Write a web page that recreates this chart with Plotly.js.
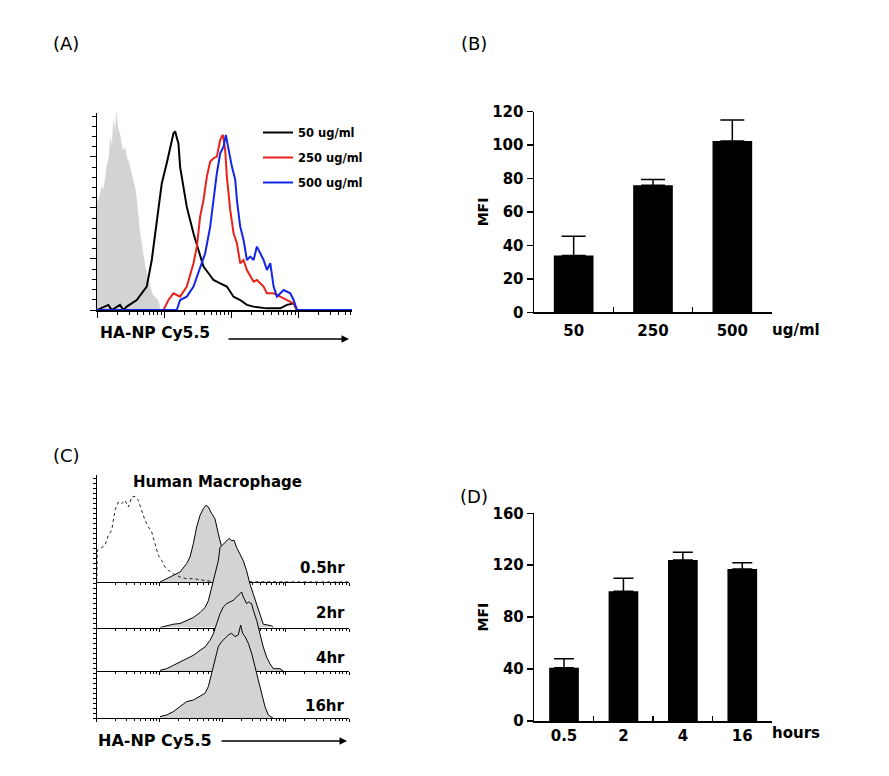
<!DOCTYPE html>
<html><head><meta charset="utf-8">
<script src="https://cdn.plot.ly/plotly-3.0.1.min.js"></script>
<style>html,body{margin:0;padding:0;background:#fff}#chart{width:889px;height:776px}</style>
</head><body><div id="chart"></div>
<script>
// ---------- Panel A : histograms (x = log10 fluorescence, y = events) ----------
const aGrayX = [0,0,0.04,0.07,0.1,0.145,0.18,0.2,0.22,0.25,0.27,0.29,0.31,0.34,0.37,0.39,0.42,0.44,0.47,0.49,0.52,0.54,0.57,0.59,0.62,0.64,0.68,0.72,0.77,0.82,0.87,0.91,0.93,0.94];
const aGrayY = [0,104,112,121,118,140,150,168,160,185,172,193,178,173,160,157,158,150,146,140,132,124,118,108,90,75,58,42,28,16,12,10,4,0];
const a50X = [0,0.169,0.219,0.343,0.393,0.443,0.592,0.741,0.816,0.891,0.965,1.04,1.09,1.139,1.164,1.214,1.239,1.289,1.338,1.438,1.512,1.587,1.662,1.736,1.836,1.935,2.035,2.134,2.234,2.333,2.532,2.731,2.831,2.93,2.98];
const a50Y = [0,5,0,5,0,3.3,9.8,22.9,49,88,124,144,160,173,175,163,140,121,101,75,59,42.5,36,29.4,26,23,13,9.8,5,3.3,1.6,1.6,5,6.5,0];
const a250X = [0.99,1.065,1.139,1.239,1.338,1.438,1.488,1.537,1.587,1.637,1.687,1.736,1.786,1.836,1.876,1.91,1.935,1.985,2.035,2.085,2.134,2.184,2.234,2.284,2.333,2.383,2.433,2.483,2.532,2.632,2.731,2.831,2.93,2.98];
const a250Y = [0,9.8,16.3,13.1,22.9,45.8,62.1,91.5,107.8,130.7,145.4,148.7,150.3,166.7,171.6,156.9,130.7,98,75.2,65.4,45.8,49,39.2,32.7,27.8,29.4,26.1,22.9,16.3,16.3,13.1,9.8,6.5,0];
const a500X = [0,1.189,1.239,1.338,1.438,1.537,1.612,1.687,1.736,1.786,1.836,1.886,1.92,1.96,2.01,2.06,2.085,2.134,2.184,2.234,2.284,2.333,2.383,2.433,2.483,2.532,2.582,2.632,2.682,2.781,2.881,2.93,2.98,3.8];
const a500Y = [0,0,9.8,13.1,22.9,42.5,55.6,81.7,107.8,134,153.6,160.1,171.6,156.9,140.5,127.5,107.8,81.7,68.6,49,52.3,49,62.1,55.6,49,39.2,45.8,22.9,13.1,19.6,16.3,9.8,0,0];
const aNames = ['50 ug/ml','250 ug/ml','500 ug/ml'];

// ---------- Panel B : MFI vs dose ----------
const bCats = ['50','250','500'];
const bVals = [34,76,102.5];
const bErr  = [11.5,3.5,12.5];

// ---------- Panel C : offset histograms (x = log10 fluorescence, y = events) ----------
const cCtrlX = [0,0.01,0.053,0.132,0.185,0.238,0.29,0.343,0.396,0.449,0.502,0.555,0.607,0.66,0.713,0.766,0.819,0.872,0.924,0.977,1.03,1.083,1.136,1.215,1.321,1.426,1.532,1.638,1.743,1.849,4.0];
const cCtrlY = [0,31.7,33.3,36.7,46.7,51.7,71.7,80,78.3,81.7,75,85,85.7,81.7,71.7,61.7,55,50,38.3,26.7,21.7,15,11.7,8.3,5,3.3,3.3,2.3,1,0.3,0];
const c05X = [1.004,1.109,1.215,1.321,1.426,1.479,1.532,1.585,1.638,1.69,1.733,1.77,1.823,1.875,1.928,1.981,2.034,2.087,2.166];
const c05Y = [0,3.3,6.7,10,18.3,25,38.3,55,66.7,73.3,76.7,75,68.3,63.3,48.3,35,25,11.7,0];
const c2X = [1.004,1.109,1.215,1.321,1.426,1.532,1.638,1.717,1.77,1.823,1.875,1.928,1.955,2.007,2.06,2.102,2.139,2.176,2.219,2.272,2.324,2.377,2.43,2.483,2.536,2.588,2.641,2.773,2.8];
const c2Y = [0,1.7,3.3,4,6.7,10,15,20,26.7,40,53.3,66.7,80,83.3,86.7,89.3,86.7,87.3,80,73.3,66.7,56.7,43.3,33.3,23.3,13.3,3.3,1.7,0];
const c4X = [1.004,1.109,1.215,1.321,1.426,1.532,1.638,1.717,1.796,1.849,1.902,1.955,2.007,2.06,2.113,2.166,2.219,2.272,2.298,2.324,2.377,2.404,2.456,2.483,2.536,2.588,2.641,2.694,2.747,2.8,2.905,2.958];
const c4Y = [0.7,2.3,5.7,9,12.3,15.7,20.7,24,30.7,37.3,47.3,57.3,64,67.3,69,70.7,74,77.3,79,74,67.3,69,67.3,60.7,50.7,37.3,24,14,7.3,2.3,2.3,0];
const c16X = [1.004,1.109,1.215,1.321,1.426,1.532,1.638,1.717,1.77,1.823,1.875,1.928,1.981,2.034,2.087,2.139,2.192,2.245,2.282,2.314,2.351,2.404,2.456,2.509,2.562,2.615,2.668,2.721,2.8];
const c16Y = [1.7,3.3,6.7,11.7,16.7,18.3,21.7,25,31.7,45,58.3,71.7,76.7,80,83.3,85,81.7,83.3,93.3,85,81.7,75,65,51.7,38.3,25,11.7,3.3,0];
const cLabels = ['0.5hr','2hr','4hr','16hr'];

// ---------- Panel D : MFI vs time ----------
const dCats = ['0.5','2','4','16'];
const dVals = [41,100,124,117];
const dErr  = [7,10,6,5];

// ---------- log-decade tick helper ----------
function minorLog(maxDec){ const v=[]; for(let d=0; d<Math.ceil(maxDec); d++){ for(let k=2;k<10;k++){ const t=d+Math.log10(k); if(t<maxDec) v.push(t);} } return v; }

const GRAY = '#d3d3d3';
const FONT = 'DejaVu Sans, Verdana, sans-serif';
const bf = (s) => ({family:FONT, size:s, weight:'bold', color:'#000'});

const traces = [
  {x:aGrayX, y:aGrayY, xaxis:'x', yaxis:'y', mode:'lines', fill:'tozeroy', fillcolor:GRAY, line:{color:GRAY, width:0.5}, showlegend:false, hoverinfo:'skip'},
  {x:a50X, y:a50Y, xaxis:'x', yaxis:'y', mode:'lines', name:aNames[0], line:{color:'#000000', width:2}, legendgroup:'g1'},
  {x:a250X, y:a250Y, xaxis:'x', yaxis:'y', mode:'lines', name:aNames[1], line:{color:'#e8231b', width:2}, legendgroup:'g2'},
  {x:a500X, y:a500Y, xaxis:'x', yaxis:'y', mode:'lines', name:aNames[2], line:{color:'#1226e8', width:2}, legendgroup:'g3'},
  // panel C
  {x:c05X, y:c05Y, xaxis:'x2', yaxis:'y2', mode:'lines', fill:'tozeroy', fillcolor:GRAY, line:{color:'#000', width:1}, showlegend:false},
  {x:cCtrlX, y:cCtrlY, xaxis:'x2', yaxis:'y2', mode:'lines', line:{color:'#222', width:1, dash:'dot'}, showlegend:false},
  {x:c2X, y:c2Y, xaxis:'x3', yaxis:'y3', mode:'lines', fill:'tozeroy', fillcolor:GRAY, line:{color:'#000', width:1}, showlegend:false},
  {x:c4X, y:c4Y, xaxis:'x4', yaxis:'y4', mode:'lines', fill:'tozeroy', fillcolor:GRAY, line:{color:'#000', width:1}, showlegend:false},
  {x:c16X, y:c16Y, xaxis:'x5', yaxis:'y5', mode:'lines', fill:'tozeroy', fillcolor:GRAY, line:{color:'#000', width:1}, showlegend:false},
  // panel B
  {type:'bar', x:bCats, y:bVals, xaxis:'x6', yaxis:'y6', width:0.5, marker:{color:'#000'}, showlegend:false,
   error_y:{type:'data', symmetric:false, array:bErr, arrayminus:bErr.map(()=>0), color:'#000', thickness:1.5, width:12}},
  // panel D
  {type:'bar', x:dCats, y:dVals, xaxis:'x7', yaxis:'y7', width:0.5, marker:{color:'#000'}, showlegend:false,
   error_y:{type:'data', symmetric:false, array:dErr, arrayminus:dErr.map(()=>0), color:'#000', thickness:1.5, width:10}}
];

const W=889, H=776;
const px = v => v/W, py = v => 1 - v/H;

const cX = [px(96.7), px(349)];
const cTop = py(475);
const cBase = [582, 627.5, 671, 718.3];
function cx(anchor){ return {domain:cX, range:[0,4], anchor:anchor, showline:true, linecolor:'#000', linewidth:1, ticks:'outside', ticklen:3, tickcolor:'#000', tickvals:[0,1,2,3,4], minor:{tickvals:minorLog(4), ticklen:2, ticks:'outside', tickcolor:'#000'}, showticklabels:false, showgrid:false, zeroline:false}; }
function cy(anchor, base, show){ return {domain:[py(base), cTop], range:[0, base-475], anchor:anchor, showline:show, linecolor:'#000', linewidth:1, ticks: show?'outside':'', ticklen:3, dtick:5, tickcolor:'#000', showticklabels:false, showgrid:false, zeroline:false}; }

function ann(text, x, y, size, xa){ return {text:text, x:px(x), y:py(y), xref:'paper', yref:'paper', xanchor:xa||'center', yanchor:'middle', showarrow:false, font:bf(size)}; }
function lab(text, x, y){ return {text:text, x:px(x), y:py(y), xref:'paper', yref:'paper', xanchor:'center', yanchor:'middle', showarrow:false, font:{family:'DejaVu Sans', size:18, color:'#000'}}; }
function arrow(x, y, len){ return {text:'', x:px(x), y:py(y), xref:'paper', yref:'paper', ax:-len, ay:0, showarrow:true, arrowhead:2, arrowsize:1, arrowwidth:1.5, arrowcolor:'#000'}; }

const layout = {
  width:W, height:H, margin:{l:0,r:0,t:0,b:0}, autosize:false,
  paper_bgcolor:'#fff', plot_bgcolor:'rgba(0,0,0,0)',
  font:{family:FONT, color:'#000'},
  showlegend:true,
  legend:{x:px(258), y:py(118), xanchor:'left', yanchor:'top', bgcolor:'rgba(0,0,0,0)', font:bf(11.5), traceorder:'grouped', tracegroupgap:6, itemwidth:30},
  xaxis:{domain:[px(97), px(352)], range:[0,3.8], anchor:'y', showline:true, linecolor:'#000', linewidth:1.5, ticks:'outside', ticklen:6, tickcolor:'#000', tickvals:[0,1,2,3], minor:{tickvals:minorLog(3.8), ticklen:3, ticks:'outside', tickcolor:'#000'}, showticklabels:false, showgrid:false, zeroline:false},
  yaxis:{domain:[py(310), py(113)], range:[0,193], anchor:'x', showline:true, linecolor:'#000', linewidth:1.5, ticks:'outside', ticklen:6, dtick:50, tickcolor:'#000', minor:{dtick:10, ticklen:4, ticks:'outside', tickcolor:'#000'}, showticklabels:false, showgrid:false, zeroline:false},
  xaxis2:cx('y2'), xaxis3:cx('y3'), xaxis4:cx('y4'), xaxis5:cx('y5'),
  yaxis2:cy('x2', cBase[0], false), yaxis3:cy('x3', cBase[1], false), yaxis4:cy('x4', cBase[2], false), yaxis5:cy('x5', cBase[3], true),
  xaxis6:{domain:[px(534), px(772)], type:'category', range:[-0.5,2.5], anchor:'y6', tickson:'boundaries', ticks:'inside', ticklen:5, tickcolor:'#000', tickwidth:1.5, showline:true, linecolor:'#000', linewidth:1.5, tickfont:bf(15), ticklabelstandoff:4, showgrid:false, zeroline:false},
  yaxis6:{domain:[py(312.3), py(111.7)], range:[0,120], dtick:20, anchor:'x6', ticks:'outside', ticklen:6, tickwidth:1.5, tickcolor:'#000', showline:true, linecolor:'#000', linewidth:1.5, tickfont:bf(15), showgrid:false, zeroline:false,
          title:{text:'MFI', font:bf(14), standoff:0}},
  xaxis7:{domain:[px(534.3), px(772)], type:'category', range:[-0.5,3.5], anchor:'y7', tickson:'boundaries', ticks:'inside', ticklen:5, tickcolor:'#000', tickwidth:1.5, showline:true, linecolor:'#000', linewidth:1.5, tickfont:bf(15), ticklabelstandoff:0, showgrid:false, zeroline:false},
  yaxis7:{domain:[py(721), py(513.3)], range:[0,160], dtick:40, anchor:'x7', ticks:'outside', ticklen:6, tickwidth:1.5, tickcolor:'#000', showline:true, linecolor:'#000', linewidth:1.5, tickfont:bf(15), showgrid:false, zeroline:false,
          title:{text:'MFI', font:bf(14), standoff:0}},
  annotations:[
    lab('(A)', 66, 43), lab('(B)', 474, 43), lab('(C)', 66, 455), lab('(D)', 474, 497),
    ann('HA-NP Cy5.5', 98, 333, 15.5, 'left'),
    arrow(349, 339, 122),
    ann('HA-NP Cy5.5', 96, 740, 16, 'left'),
    arrow(347, 741, 127),
    ann('Human Macrophage', 217, 482, 15),
    ann(cLabels[0], 347, 568, 15, 'right'),
    ann(cLabels[1], 347, 613, 15, 'right'),
    ann(cLabels[2], 347, 658, 15, 'right'),
    ann(cLabels[3], 347, 706, 15, 'right'),
    ann('ug/ml', 796, 330, 15),
    ann('hours', 796, 733, 15)
  ]
};

Plotly.newPlot('chart', traces, layout, {displayModeBar:false, staticPlot:true});
</script>
</body></html>
